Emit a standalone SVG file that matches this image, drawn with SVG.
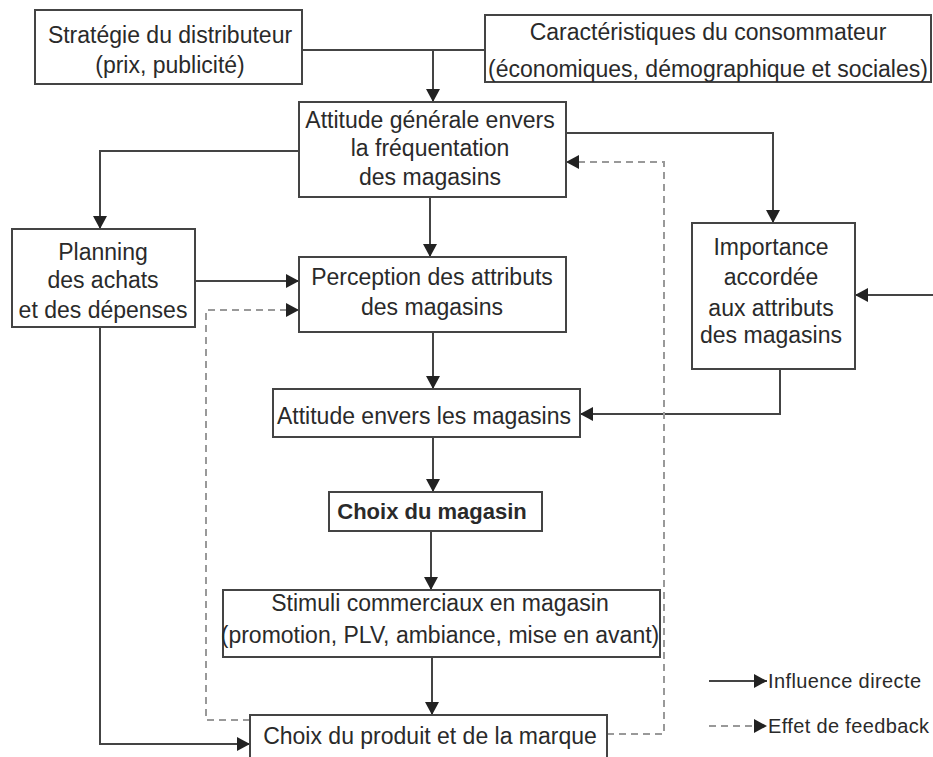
<svg xmlns="http://www.w3.org/2000/svg" width="933" height="757" viewBox="0 0 933 757">
<defs>
<marker id="ah" markerUnits="userSpaceOnUse" markerWidth="14" markerHeight="14" refX="13" refY="7" orient="auto">
<path d="M0,0 L13,7 L0,14 z" fill="#222"/>
</marker>
<style>
.box{fill:#fff;stroke:#444;stroke-width:2}
.t{font-family:"Liberation Sans",Arial,sans-serif;font-size:23px;fill:#2a2a2a;text-anchor:middle}
.b{font-weight:bold;font-size:22px}
.lg{font-family:"Liberation Sans",Arial,sans-serif;font-size:20px;fill:#2a2a2a}
.c{fill:none;stroke:#444;stroke-width:2}
.d{fill:none;stroke:#999;stroke-width:2;stroke-dasharray:7,5}
</style>
</defs>
<rect width="933" height="757" fill="#fff"/>
<g id="connectors">
<path class="c" d="M302,50 H485"/>
<path class="c" d="M433,50 V102" marker-end="url(#ah)"/>
<path class="c" d="M299,151 H100 V229" marker-end="url(#ah)"/>
<path class="c" d="M566,133 H773 V223" marker-end="url(#ah)"/>
<path class="c" d="M933,295 H855" marker-end="url(#ah)"/>
<path class="c" d="M780,369 V414 H580" marker-end="url(#ah)"/>
<path class="c" d="M430,197 V257" marker-end="url(#ah)"/>
<path class="c" d="M195,281 H299" marker-end="url(#ah)"/>
<path class="c" d="M433,332 V389" marker-end="url(#ah)"/>
<path class="c" d="M433,437 V492" marker-end="url(#ah)"/>
<path class="c" d="M431,531 V590" marker-end="url(#ah)"/>
<path class="c" d="M432,657 V715" marker-end="url(#ah)"/>
<path class="c" d="M100,327 V744 H250" marker-end="url(#ah)"/>
<path class="d" d="M250,720 H206 V310 H299" marker-end="url(#ah)"/>
<path class="d" d="M607,734 H664 V162 H566" marker-end="url(#ah)"/>
</g>
<g id="n1"><rect class="box" x="35" y="10" width="267" height="74"/>
<text class="t" x="170" y="43">Stratégie du distributeur</text>
<text class="t" x="170" y="73">(prix, publicité)</text></g>
<g id="n2"><rect class="box" x="485" y="15" width="446" height="67"/>
<text class="t" x="708" y="40">Caractéristiques du consommateur</text>
<text class="t" x="708" y="77">(économiques, démographique et sociales)</text></g>
<g id="n3"><rect class="box" x="299" y="102" width="267" height="95"/>
<text class="t" x="430" y="128">Attitude générale envers</text>
<text class="t" x="430" y="156">la fréquentation</text>
<text class="t" x="430" y="185">des magasins</text></g>
<g id="n4"><rect class="box" x="12" y="229" width="183" height="98"/>
<text class="t" x="103" y="260">Planning</text>
<text class="t" x="103" y="288">des achats</text>
<text class="t" x="103" y="318">et des dépenses</text></g>
<g id="n5"><rect class="box" x="692" y="223" width="163" height="146"/>
<text class="t" x="771" y="255">Importance</text>
<text class="t" x="771" y="285">accordée</text>
<text class="t" x="771" y="316">aux attributs</text>
<text class="t" x="771" y="343">des magasins</text></g>
<g id="n6"><rect class="box" x="299" y="257" width="267" height="75"/>
<text class="t" x="432" y="285">Perception des attributs</text>
<text class="t" x="432" y="315">des magasins</text></g>
<g id="n7"><rect class="box" x="273" y="389" width="307" height="48"/>
<text class="t" x="424" y="424">Attitude envers les magasins</text></g>
<g id="n8"><rect class="box" x="329" y="492" width="213" height="39"/>
<text class="t b" x="432" y="519">Choix du magasin</text></g>
<g id="n9"><rect class="box" x="223" y="590" width="437" height="67"/>
<text class="t" x="440" y="611">Stimuli commerciaux en magasin</text>
<text class="t" x="440" y="643">(promotion, PLV, ambiance, mise en avant)</text></g>
<g id="n10"><rect class="box" x="250" y="715" width="357" height="50"/>
<text class="t" x="430" y="744">Choix du produit et de la marque</text></g>
<g id="legend">
<path class="c" d="M709,681 H767" marker-end="url(#ah)"/>
<text class="lg" x="768" y="688" textLength="153">Influence directe</text>
<path class="d" d="M709,726 H767" marker-end="url(#ah)"/>
<text class="lg" x="768" y="733" textLength="161">Effet de feedback</text>
</g>
</svg>
